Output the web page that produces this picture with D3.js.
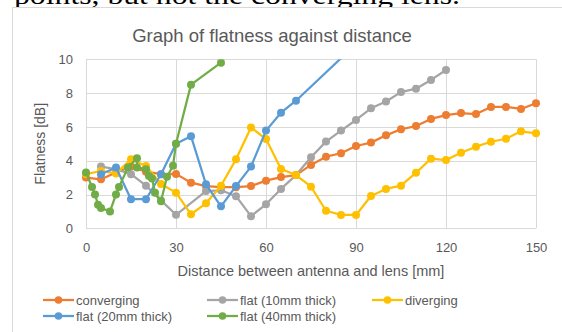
<!DOCTYPE html>
<html>
<head>
<meta charset="utf-8">
<script src="https://cdn.jsdelivr.net/npm/d3@7"></script>
<style>
  html, body { margin: 0; padding: 0; background: #fff; }
  svg { display: block; }
</style>
</head>
<body>
<div id="chart"></div>
<script>
// series data (distance in mm, flatness in dB)
const convergingX = [0, 5, 10, 15, 20, 25, 30, 35, 40, 45, 50, 55, 60, 65, 70, 75, 80, 85, 90, 95, 100, 105, 110, 115, 120, 125, 130, 135, 140, 145, 150];
const convergingY = [3.0, 2.9, 3.3, 3.65, 3.35, 3.2, 3.22, 2.7, 2.5, 2.43, 2.43, 2.5, 2.82, 3.03, 3.15, 3.75, 4.24, 4.44, 4.87, 5.07, 5.5, 5.86, 6.05, 6.47, 6.7, 6.82, 6.76, 7.18, 7.18, 7.06, 7.4];

const flat10X = [5, 10, 15, 20, 25, 30, 40, 45, 50, 55, 60, 65, 70, 75, 80, 85, 90, 95, 100, 105, 110, 115, 120];
const flat10Y = [3.65, 3.5, 3.2, 2.52, 1.65, 0.8, 2.2, 2.25, 1.9, 0.72, 1.42, 2.33, 3.15, 4.2, 5.13, 5.78, 6.41, 7.1, 7.5, 8.06, 8.26, 8.78, 9.37];

const divergingX = [0, 5, 10, 15, 20, 25, 30, 35, 40, 45, 50, 55, 60, 65, 70, 75, 80, 85, 90, 95, 100, 105, 110, 115, 120, 125, 130, 135, 140, 145, 150];
const divergingY = [3.2, 3.39, 3.25, 4.08, 3.69, 2.62, 2.11, 0.83, 1.48, 2.52, 4.08, 5.97, 5.28, 3.51, 3.15, 2.46, 1.04, 0.79, 0.79, 1.91, 2.33, 2.52, 3.29, 4.12, 4.04, 4.47, 4.83, 5.12, 5.3, 5.74, 5.62];

const flat20X = [5, 10, 15, 20, 25, 30, 35, 40, 45, 50, 55, 60, 65, 70, 90];
const flat20Y = [3.2, 3.6, 1.72, 1.72, 3.2, 5.0, 5.45, 2.6, 1.3, 2.5, 3.65, 5.78, 6.84, 7.55, 10.9];

const flat40X = [0, 2, 3, 4, 5, 8, 10, 11, 14, 17, 17, 20, 21, 22, 23, 25, 27, 29, 30, 35, 45];
const flat40Y = [3.3, 2.45, 2.0, 1.4, 1.2, 1.0, 2.0, 2.45, 3.6, 4.15, 3.6, 3.5, 3.1, 2.95, 2.1, 1.6, 3.05, 3.7, 5.0, 8.5, 9.8];

const seriesNames = ['converging', 'flat (10mm thick)', 'diverging', 'flat (20mm thick)', 'flat (40mm thick)'];
const seriesColors = ['#ED7D31', '#A5A5A5', '#FFC000', '#5B9BD5', '#70AD47'];
const xTicks = [0, 30, 60, 90, 120, 150];
const yTicks = [0, 2, 4, 6, 8, 10];

const series = [
  [convergingX, convergingY],
  [flat10X, flat10Y],
  [divergingX, divergingY],
  [flat20X, flat20Y],
  [flat40X, flat40Y]
].map(([xs, ys], i) => ({
  name: seriesNames[i],
  color: seriesColors[i],
  points: xs.map((x, j) => ({ x, y: ys[j] }))
}));

const width = 562;
const height = 332;
const plot = { left: 86, right: 536, top: 59.3, bottom: 228.3 };
const textColor = '#595959';
const gridColor = '#d9d9d9';
const font = '"Liberation Sans", Arial, sans-serif';

const svg = d3.select('#chart').append('svg')
  .attr('width', width)
  .attr('height', height)
  .style('font-family', font);

// text of the document above the chart, cut off by the screenshot just like the reference
svg.append('text')
  .attr('x', 14)
  .attr('y', 4)
  .attr('font-family', '"Liberation Serif", "Times New Roman", serif')
  .attr('font-size', 25)
  .attr('textLength', 446)
  .attr('lengthAdjust', 'spacingAndGlyphs')
  .attr('fill', '#000')
  .text('points, but not the converging lens.');

// chart frame (extends past the picture on the right and bottom)
svg.append('rect')
  .attr('x', 12.5)
  .attr('y', 7.5)
  .attr('width', 600)
  .attr('height', 400)
  .attr('fill', '#fff')
  .attr('stroke', gridColor);

const x = d3.scaleLinear().domain([0, 150]).range([plot.left, plot.right]);
const y = d3.scaleLinear().domain([0, 10]).range([plot.bottom, plot.top]);

// gridlines
svg.append('g')
  .selectAll('line')
  .data(yTicks)
  .join('line')
  .attr('x1', plot.left).attr('x2', plot.right)
  .attr('y1', d => Math.round(y(d)) + 0.5).attr('y2', d => Math.round(y(d)) + 0.5)
  .attr('stroke', gridColor);

svg.append('g')
  .selectAll('line')
  .data(xTicks)
  .join('line')
  .attr('y1', plot.top).attr('y2', plot.bottom)
  .attr('x1', d => Math.round(x(d)) + 0.5).attr('x2', d => Math.round(x(d)) + 0.5)
  .attr('stroke', gridColor);

// axes (labels only)
const yAxis = svg.append('g')
  .attr('transform', `translate(${plot.left - 4},0)`)
  .call(d3.axisLeft(y).tickValues(yTicks).tickSize(0).tickPadding(9).tickFormat(d3.format('d')));
yAxis.select('.domain').remove();
yAxis.selectAll('text')
  .attr('fill', textColor)
  .attr('font-size', 13)
  .attr('font-family', font);

const xAxis = svg.append('g')
  .attr('transform', `translate(0,${plot.bottom})`)
  .call(d3.axisBottom(x).tickValues(xTicks).tickSize(0).tickPadding(14).tickFormat(d3.format('d')));
xAxis.select('.domain').remove();
xAxis.selectAll('text')
  .attr('fill', textColor)
  .attr('font-size', 13)
  .attr('font-family', font);

// title and axis titles
svg.append('text')
  .attr('x', 272)
  .attr('y', 42)
  .attr('text-anchor', 'middle')
  .attr('font-size', 18.5)
  .attr('fill', textColor)
  .text('Graph of flatness against distance');

svg.append('text')
  .attr('transform', `translate(45,${(plot.top + plot.bottom) / 2}) rotate(-90)`)
  .attr('text-anchor', 'middle')
  .attr('font-size', 14)
  .attr('fill', textColor)
  .text('Flatness [dB]');

svg.append('text')
  .attr('x', (plot.left + plot.right) / 2)
  .attr('y', 276)
  .attr('text-anchor', 'middle')
  .attr('font-size', 14.5)
  .attr('fill', textColor)
  .text('Distance between antenna and lens [mm]');

// series
svg.append('defs').append('clipPath')
  .attr('id', 'plot-clip')
  .append('rect')
  .attr('x', plot.left - 6)
  .attr('y', plot.top)
  .attr('width', plot.right - plot.left + 12)
  .attr('height', plot.bottom - plot.top + 6);

const line = d3.line().x(d => x(d.x)).y(d => y(d.y));

const seriesG = svg.append('g')
  .attr('clip-path', 'url(#plot-clip)')
  .selectAll('g')
  .data(series)
  .join('g');

seriesG.append('path')
  .attr('d', d => line(d.points))
  .attr('fill', 'none')
  .attr('stroke', d => d.color)
  .attr('stroke-width', 2.25)
  .attr('stroke-linejoin', 'round');

seriesG.selectAll('circle')
  .data(d => d.points.filter(p => p.y <= 10).map(p => ({ ...p, color: d.color })))
  .join('circle')
  .attr('cx', d => x(d.x))
  .attr('cy', d => y(d.y))
  .attr('r', 4)
  .attr('fill', d => d.color);

// legend
const legendPos = [[43, 300], [207, 300], [372, 300], [43, 316], [207, 316]];
const legend = svg.append('g')
  .selectAll('g')
  .data(series)
  .join('g')
  .attr('transform', (d, i) => `translate(${legendPos[i][0]},${legendPos[i][1]})`);

legend.append('line')
  .attr('x1', 0).attr('x2', 31)
  .attr('stroke', d => d.color)
  .attr('stroke-width', 2.25);

legend.append('circle')
  .attr('cx', 15.5)
  .attr('r', 3.8)
  .attr('fill', d => d.color);

legend.append('text')
  .attr('x', 33)
  .attr('y', 4.5)
  .attr('font-size', 13)
  .attr('fill', textColor)
  .text(d => d.name);
</script>
</body>
</html>
